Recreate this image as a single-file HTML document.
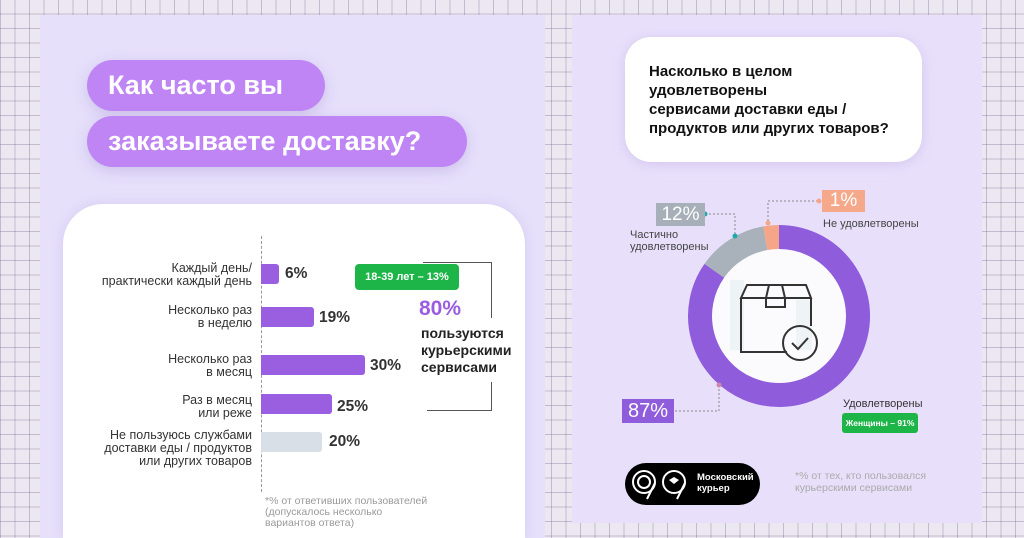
<!DOCTYPE html>
<html><head><meta charset="utf-8"><style>
*{margin:0;padding:0;box-sizing:border-box}
html{width:1024px;height:538px;overflow:hidden}
body{width:1024px;height:538px;overflow:hidden;position:relative;font-family:"Liberation Sans","Noto Sans CJK SC",sans-serif;
background-color:#ece8f2;
background-image:linear-gradient(90deg,rgba(120,100,140,.35) 1px,transparent 1px),linear-gradient(0deg,rgba(120,100,140,.35) 1px,transparent 1px);
background-size:14.5px 14.5px}
.a{position:absolute}
.lp{left:40px;top:15px;width:505px;height:523px;background:#e6e0fb}
.rp{left:572px;top:15px;width:410px;height:508px;background:#e8e0fb}
.pill{background:#bf85f5;color:#fff;font-weight:bold;font-size:27px;border-radius:26px;height:51px;line-height:50px;padding-left:21px;box-shadow:0 4px 14px rgba(150,120,200,.3)}
.card{background:#fff;border-radius:40px 40px 0 0}
.lab{font-size:12.5px;color:#333;text-align:right;line-height:13px;width:200px;left:52px}
.bar{left:261px;height:20px;background:#9a5ee0;border-radius:0 3px 3px 0}
.pct{font-size:15.5px;font-weight:bold;color:#333}
.gr{color:#9a9a9a;font-size:10.5px;line-height:11px}
</style></head><body>
<div class="a lp"></div>
<div class="a rp"></div>
<div class="a pill" style="left:87px;top:60px;width:238px">Как часто вы</div>
<div class="a pill" style="left:87px;top:116px;width:380px">заказываете доставку?</div>
<div class="a card" style="left:63px;top:204px;width:462px;height:334px;box-shadow:0 0 12px rgba(150,120,200,.2)"></div>
<div class="a" style="left:261px;top:236px;height:256px;border-left:1px dashed #999"></div>
<div class="a lab" style="top:262px">Каждый день/<br>практически каждый день</div>
<div class="a bar" style="top:264px;width:18px"></div><div class="a pct" style="left:285px;top:265px">6%</div>
<div class="a lab" style="top:304px">Несколько раз<br>в неделю</div>
<div class="a bar" style="top:307px;width:53px"></div><div class="a pct" style="left:319px;top:309px">19%</div>
<div class="a lab" style="top:353px">Несколько раз<br>в месяц</div>
<div class="a bar" style="top:355px;width:104px"></div><div class="a pct" style="left:370px;top:357px">30%</div>
<div class="a lab" style="top:394px">Раз в месяц<br>или реже</div>
<div class="a bar" style="top:394px;width:71px"></div><div class="a pct" style="left:337px;top:398px">25%</div>
<div class="a lab" style="top:429px">Не пользуюсь службами<br>доставки еды / продуктов<br>или других товаров</div>
<div class="a bar" style="top:432px;width:61px;background:#d8dfe6"></div><div class="a pct" style="left:329px;top:433px">20%</div>
<div class="a" style="left:423px;top:262px;width:69px;height:56px;border-top:1px solid #555;border-right:1px solid #555"></div>
<div class="a" style="left:427px;top:382px;width:65px;height:29px;border-bottom:1px solid #555;border-right:1px solid #555"></div>
<div class="a" style="left:355px;top:264px;width:104px;height:26px;background:#1db548;border-radius:4px;color:#fff;font-size:11px;font-weight:bold;text-align:center;line-height:26px">18-39 лет – 13%</div>
<div class="a" style="left:419px;top:297px;color:#9a5ee0;font-weight:bold;font-size:21px">80%</div>
<div class="a" style="left:421px;top:325px;color:#222;font-weight:bold;font-size:14px;line-height:17px">пользуются<br>курьерскими<br>сервисами</div>
<div class="a gr" style="left:265px;top:496px">*% от ответивших пользователей<br>(допускалось несколько<br>вариантов ответа)</div>

<div class="a" style="left:625px;top:37px;width:297px;height:125px;background:#fff;border-radius:26px;box-shadow:0 2px 12px rgba(150,120,200,.25)"></div>
<div class="a" style="left:649px;top:62px;font-size:15px;font-weight:bold;color:#111;line-height:19px">Насколько в целом<br>удовлетворены<br>сервисами доставки еды /<br>продуктов или других товаров?</div>

<svg class="a" style="left:0;top:0" width="1024" height="538">
<circle cx="779" cy="316" r="67" fill="#fbfbfd"/>
<rect x="730" y="280" width="14" height="70" fill="#eef3f6"/><rect x="796" y="300" width="16" height="50" fill="#eef3f6"/>
<path d="M779 237 A79 79 0 1 1 714.3 270.7" fill="none" stroke="#8f5cdc" stroke-width="24"/>
<path d="M714.3 270.7 A79 79 0 0 1 765.3 238.2" fill="none" stroke="#a9b2ba" stroke-width="24"/>
<path d="M765.3 238.2 A79 79 0 0 1 779 237" fill="none" stroke="#f6a688" stroke-width="24"/>
<g fill="none" stroke="#333" stroke-width="2">
<path d="M741 298 L747 285 L806 285 L811 298 Z M741 298 V352 H787 M811 298 V326"/>
<path d="M769 285 L766 298 V307 H785 V298 L782 285"/>
<circle cx="800" cy="343" r="17"/><path d="M792 343 L798 349 L808 338"/>
</g>
<g fill="none" stroke="#888" stroke-dasharray="2,2">
<path d="M705 214 H735 V234"/><path d="M818 201 H768 V222"/><path d="M675 411 H719 V385"/>
</g>
<circle cx="735" cy="236" r="2.5" fill="#2aa"/><circle cx="705" cy="214" r="2.5" fill="#2aa"/>
<circle cx="768" cy="223" r="2.5" fill="#f6a688"/><circle cx="819" cy="201" r="2.5" fill="#f6a688"/>
<circle cx="719" cy="385" r="2.5" fill="#c8a"/>
</svg>
<div class="a" style="left:656px;top:203px;width:49px;height:23px;background:#a7b0b8;color:#fff;font-size:19px;line-height:23px;text-align:center">12%</div>
<div class="a" style="left:630px;top:229px;font-size:11px;color:#444;line-height:12px">Частично<br>удовлетворены</div>
<div class="a" style="left:822px;top:190px;width:43px;height:22px;background:#f6a98a;color:#fff;font-size:19px;line-height:22px;text-align:center">1%</div>
<div class="a" style="left:823px;top:218px;font-size:11px;color:#444">Не удовлетворены</div>
<div class="a" style="left:622px;top:399px;width:52px;height:24px;background:#8f5cdc;color:#fff;font-size:20px;line-height:24px;text-align:center">87%</div>
<div class="a" style="left:843px;top:398px;font-size:11px;color:#333">Удовлетворены</div>
<div class="a" style="left:842px;top:413px;width:76px;height:20px;background:#1db548;border-radius:3px;color:#fff;font-size:8.5px;font-weight:bold;text-align:center;line-height:20px">Женщины – 91%</div>
<div class="a" style="left:625px;top:463px;width:135px;height:42px;background:#000;border-radius:21px"></div>
<svg class="a" style="left:625px;top:463px" width="70" height="42"><g fill="none" stroke="#fff" stroke-width="2"><circle cx="19" cy="19" r="11"/><circle cx="19" cy="19" r="6"/><path d="M30 20 L22 36"/><circle cx="49" cy="19" r="11"/><path d="M60 20 L52 36"/></g><path d="M44 17 L49 14 L54 17 L49 21Z" fill="#fff"/></svg>
<div class="a" style="left:697px;top:472px;font-size:9.5px;font-weight:bold;color:#fff;line-height:11px">Московский<br>курьер</div>
<div class="a" style="left:795px;top:470px;font-size:10.5px;color:#aaa;line-height:12px">*% от тех, кто пользовался<br>курьерскими сервисами</div>
</body></html>
